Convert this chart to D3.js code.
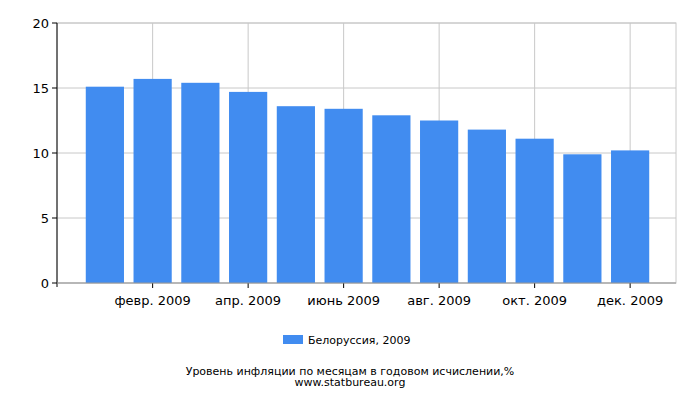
<!DOCTYPE html>
<html><head><meta charset="utf-8">
<script src="https://cdn.jsdelivr.net/npm/d3@7"></script>
<style>body{margin:0;background:#fff}text{font-family:"DejaVu Sans",sans-serif}</style>
</head><body><svg id="c" width="700" height="400"></svg>
<script>
var months = ["янв. 2009","февр. 2009","март 2009","апр. 2009","май 2009","июнь 2009","июль 2009","авг. 2009","сент. 2009","окт. 2009","нояб. 2009","дек. 2009"];
var values = [15.1, 15.7, 15.4, 14.7, 13.6, 13.4, 12.9, 12.5, 11.8, 11.1, 9.9, 10.2];
var yTicks = [0, 5, 10, 15, 20];

var svg = d3.select("#c");
var pLeft = 57, pRight = 676, pTop = 23, pBottom = 283;
var x = d3.scaleBand().domain(d3.range(12)).range([81, 654]).paddingInner(0.2).paddingOuter(0.1);
var y = d3.scaleLinear().domain([0, 20]).range([pBottom, pTop]);

// grid
svg.append("rect").attr("x", pLeft).attr("y", pTop).attr("width", pRight-pLeft).attr("height", pBottom-pTop)
	.attr("fill", "none").attr("stroke", "#c8c8c8");
yTicks.forEach(function(t){
	svg.append("line").attr("x1", pLeft).attr("x2", pRight).attr("y1", y(t)).attr("y2", y(t)).attr("stroke", "#c8c8c8");
});
d3.range(1, 12, 2).forEach(function(i){
	var cx = x(i) + x.bandwidth()/2;
	svg.append("line").attr("x1", cx).attr("x2", cx).attr("y1", pTop).attr("y2", pBottom).attr("stroke", "#c8c8c8");
	svg.append("line").attr("x1", cx).attr("x2", cx).attr("y1", pBottom).attr("y2", pBottom+5).attr("stroke", "#000");
	svg.append("text").attr("x", cx).attr("y", pBottom+22).attr("text-anchor", "middle").attr("font-size", 13).text(months[i]);
});

svg.selectAll(".bar").data(values).enter().append("rect")
	.attr("x", function(d, i){ return x(i); })
	.attr("width", x.bandwidth())
	.attr("y", function(d){ return y(d); })
	.attr("height", function(d){ return pBottom - y(d); })
	.attr("fill", "#418cf0");

// axes
svg.append("line").attr("x1", pLeft).attr("x2", pLeft).attr("y1", pTop).attr("y2", pBottom+4).attr("stroke", "#000");
svg.append("line").attr("x1", pLeft).attr("x2", pRight).attr("y1", pBottom).attr("y2", pBottom).attr("stroke", "#999");
yTicks.forEach(function(t){
	svg.append("line").attr("x1", pLeft-5).attr("x2", pLeft).attr("y1", y(t)).attr("y2", y(t)).attr("stroke", "#000");
	svg.append("text").attr("x", pLeft-8).attr("y", y(t)+5).attr("text-anchor", "end").attr("font-size", 13).text(t);
});

// legend
svg.append("rect").attr("x", 283).attr("y", 335).attr("width", 20).attr("height", 9).attr("fill", "#418cf0");
svg.append("text").attr("x", 308).attr("y", 344).attr("font-size", 11).text("Белоруссия, 2009");

svg.append("text").attr("x", 350).attr("y", 375).attr("text-anchor", "middle").attr("font-size", 11)
	.text("Уровень инфляции по месяцам в годовом исчислении,%");
svg.append("text").attr("x", 350).attr("y", 386).attr("text-anchor", "middle").attr("font-size", 11)
	.text("www.statbureau.org");
</script></body></html>
